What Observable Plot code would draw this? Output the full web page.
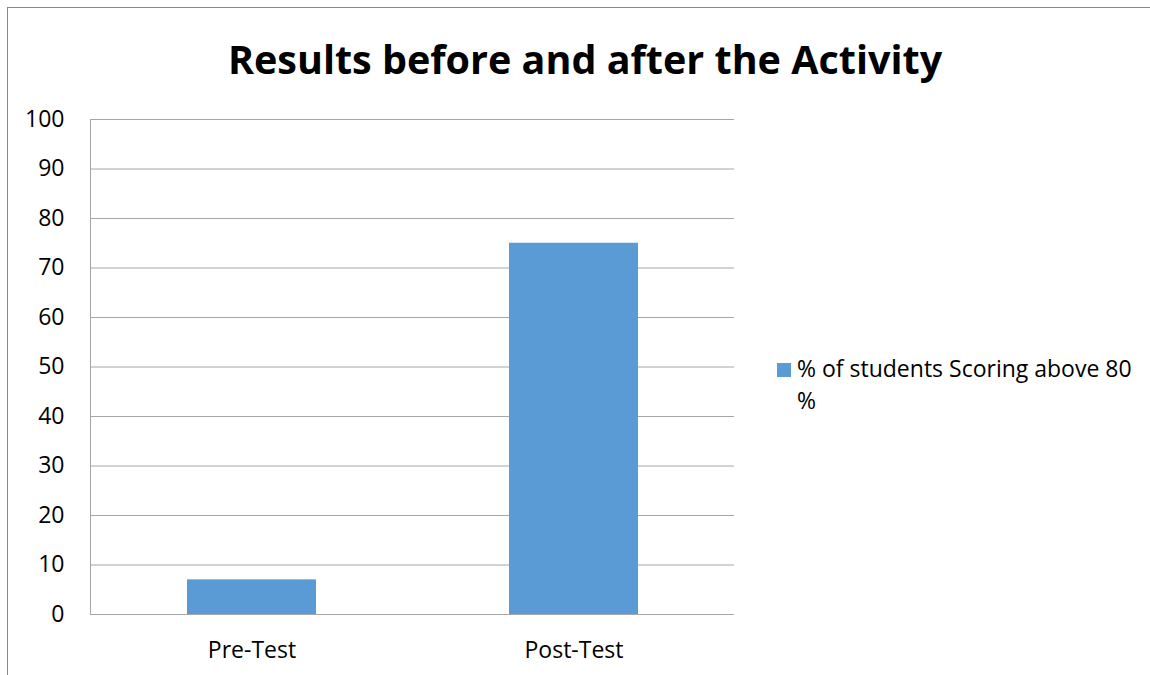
<!DOCTYPE html>
<html><head><meta charset="utf-8">
<script src="https://cdn.jsdelivr.net/npm/d3@7"></script>
<script src="https://cdn.jsdelivr.net/npm/@observablehq/plot@0.6"></script>
<style>
body{margin:0;background:#fff;}
#wrap{position:relative;width:1150px;height:675px;overflow:hidden;font-family:"Open Sans",sans-serif;}
#border{position:absolute;left:7px;top:7px;width:1150px;height:700px;border-left:1px solid #898989;border-top:1px solid #898989;}
#title{position:absolute;left:0;width:1170px;top:39px;text-align:center;font-weight:bold;font-size:39.5px;line-height:40px;color:#000;white-space:nowrap;}
#legend{position:absolute;left:777px;top:352px;font-size:23px;line-height:32px;color:#000;white-space:nowrap;}
#legend .sw{display:inline-block;width:14px;height:14px;background:#5b9bd5;margin-right:6px;}
#chart{position:absolute;left:0;top:0;}
</style></head>
<body><div id="wrap"><div id="border"></div><div id="chart"></div><div id="title">Results before and after the Activity</div>
<div id="legend"><span class="sw"></span>% of students Scoring above 80<br><span style="margin-left:20px">%</span></div></div>
<script>
const categories = ["Pre-Test", "Post-Test"];
const values = [7, 75];
const yTicks = [0,10,20,30,40,50,60,70,80,90,100];
const seriesName = "% of students Scoring above 80 %";
const data = categories.map((c,i)=>({category:c, value:values[i], series:seriesName}));
const chart = Plot.plot({
  width:1150, height:675,
  marginLeft:90, marginRight:416, marginTop:119, marginBottom:61,
  style:{fontFamily:"'Open Sans', sans-serif", fontSize:"23px", color:"#000", background:"transparent"},
  x:{domain:categories, paddingInner:0.6, paddingOuter:0.3, label:null},
  y:{domain:[0,100], label:null},
  marks:[
    Plot.ruleY(yTicks, {stroke:"#a6a6a6", strokeWidth:1}),
    Plot.frame({anchor:"left", stroke:"#a6a6a6"}),
    Plot.barY(data, {x:"category", y:"value", fill:"#5b9bd5"}),
    Plot.axisY({ticks:yTicks, tickSize:0, tickPadding:26, label:null, fontSize:23}),
    Plot.axisX({tickSize:0, tickPadding:27, label:null, fontSize:23})
  ]
});
document.getElementById("chart").appendChild(chart);
</script></body></html>
